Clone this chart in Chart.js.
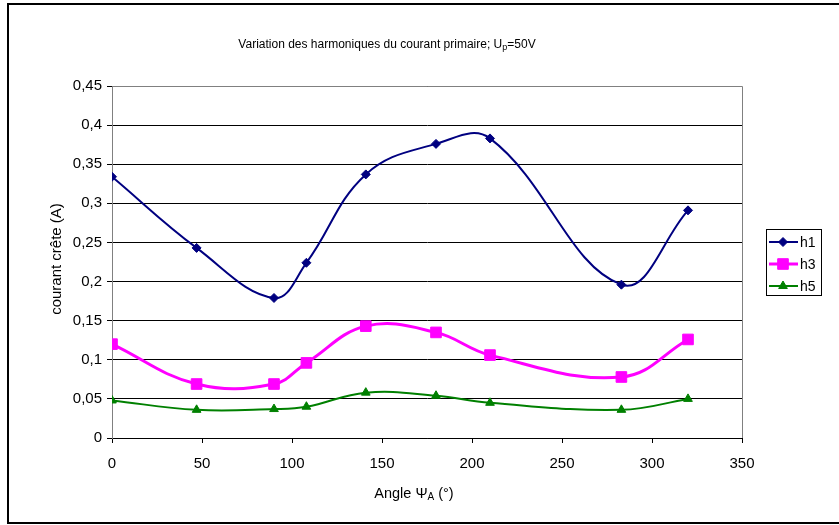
<!DOCTYPE html>
<html>
<head>
<meta charset="utf-8">
<script src="https://cdn.jsdelivr.net/npm/chart.js@4/dist/chart.umd.min.js"></script>
<style>
  html, body { margin: 0; padding: 0; background: #fff; }
  #wrap { width: 839px; height: 525px; }
</style>
</head>
<body>
<div id="wrap"><canvas id="chart" width="839" height="525"></canvas></div>
<script>
// data
const angles = [0, 47, 90, 108, 141, 180, 210, 283, 320];
const h1 = [0.334, 0.243, 0.179, 0.224, 0.337, 0.376, 0.383, 0.196, 0.291];
const h3 = [0.120, 0.069, 0.069, 0.096, 0.143, 0.135, 0.106, 0.078, 0.126];
const h5 = [0.048, 0.036, 0.037, 0.040, 0.058, 0.054, 0.045, 0.036, 0.050];
const seriesNames = ['h1', 'h3', 'h5'];
const xTickLabels = ['0', '50', '100', '150', '200', '250', '300', '350'];
const yTickLabels = ['0', '0,05', '0,1', '0,15', '0,2', '0,25', '0,3', '0,35', '0,4', '0,45'];
const titleParts = [{ t: 'Variation des harmoniques du courant primaire; U' }, { t: 'p', sub: true }, { t: '=50V' }];
const xTitleParts = [{ t: 'Angle \u03A8' }, { t: 'A', sub: true }, { t: ' (\u00B0)' }];
const yTitle = 'courant cr\u00EAte (A)';

const FONT = '"Liberation Sans", Arial, sans-serif';

function pts(ys) {
  return angles.map((a, i) => ({ x: a, y: ys[i] }));
}

const styles = [
  { color: '#000080', pointStyle: 'rectRot', radius: 4.5, width: 2 },
  { color: '#FF00FF', pointStyle: 'rect', radius: 7.5, width: 3 },
  { color: '#008000', pointStyle: 'triangle', radius: 5, width: 2 }
];

const datasets = [h1, h3, h5].map((ys, i) => ({
  label: seriesNames[i],
  data: pts(ys),
  borderColor: styles[i].color,
  backgroundColor: styles[i].color,
  borderWidth: styles[i].width,
  pointStyle: styles[i].pointStyle,
  pointRadius: styles[i].radius,
  pointBorderWidth: 1,
  pointHoverRadius: styles[i].radius,
  tension: 0.4
}));

// text with subscripts drawn on the canvas
function drawParts(ctx, parts, cx, cy, size) {
  const subSize = Math.round(size * 0.72);
  let total = 0;
  parts.forEach(p => {
    ctx.font = (p.sub ? subSize : size) + 'px ' + FONT;
    p.w = ctx.measureText(p.t).width;
    total += p.w;
  });
  let x = cx - total / 2;
  ctx.textAlign = 'left';
  ctx.textBaseline = 'middle';
  parts.forEach(p => {
    ctx.font = (p.sub ? subSize : size) + 'px ' + FONT;
    ctx.fillText(p.t, x, p.sub ? cy + size * 0.25 : cy);
    x += p.w;
  });
}

const decor = {
  id: 'decor',
  beforeDraw(chart) {
    const ctx = chart.ctx;
    ctx.save();
    ctx.fillStyle = '#fff';
    ctx.fillRect(0, 0, chart.width, chart.height);
    ctx.restore();
  },
  afterDraw(chart) {
    const ctx = chart.ctx;
    const a = chart.chartArea;
    ctx.save();
    // plot area frame (top / right)
    ctx.strokeStyle = '#808080';
    ctx.lineWidth = 1;
    ctx.beginPath();
    ctx.moveTo(a.left, a.top + 0.5);
    ctx.lineTo(a.right + 0.5, a.top + 0.5);
    ctx.lineTo(a.right + 0.5, a.bottom);
    ctx.stroke();
    // outer border
    ctx.strokeStyle = '#000';
    ctx.lineWidth = 2;
    ctx.strokeRect(8, 4, 850, 519);

    ctx.fillStyle = '#000';
    drawParts(ctx, titleParts, 387, 45, 12);
    drawParts(ctx, xTitleParts, 414, 494, 14.5);
    ctx.save();
    ctx.translate(57, 259);
    ctx.rotate(-Math.PI / 2);
    ctx.font = '15px ' + FONT;
    ctx.textAlign = 'center';
    ctx.textBaseline = 'middle';
    ctx.fillText(yTitle, 0, 0);
    ctx.restore();

    // legend
    ctx.strokeStyle = '#000';
    ctx.lineWidth = 1;
    ctx.strokeRect(766.5, 229.5, 55, 66);
    datasets.forEach((ds, i) => {
      const y = 242 + i * 22;
      ctx.strokeStyle = ds.borderColor;
      ctx.fillStyle = ds.backgroundColor;
      ctx.lineWidth = ds.borderWidth;
      ctx.beginPath();
      ctx.moveTo(769, y);
      ctx.lineTo(798, y);
      ctx.stroke();
      ctx.lineWidth = 1;
      Chart.helpers.drawPoint(ctx, { pointStyle: ds.pointStyle, radius: ds.pointRadius, rotation: 0, borderWidth: 1 }, 783, y);
      ctx.fillStyle = '#000';
      ctx.font = '14px ' + FONT;
      ctx.textAlign = 'left';
      ctx.textBaseline = 'middle';
      ctx.fillText(ds.label, 800, y + 1);
    });
    ctx.restore();
  }
};

new Chart(document.getElementById('chart'), {
  type: 'line',
  data: { datasets },
  options: {
    responsive: false,
    animation: false,
    devicePixelRatio: 1,
    layout: { padding: { top: 86, right: 97, bottom: 0, left: 0 } },
    plugins: { legend: { display: false }, title: { display: false }, tooltip: { enabled: false } },
    scales: {
      x: {
        type: 'linear',
        min: 0,
        max: 350,
        ticks: {
          stepSize: 50,
          color: '#000',
          font: { family: FONT, size: 15 },
          padding: 12,
          maxRotation: 0,
          callback: (v, i) => xTickLabels[i]
        },
        grid: { drawOnChartArea: false, drawTicks: true, tickLength: 5, color: '#000' },
        border: { color: '#000', width: 1 },
        afterFit: s => { s.height = 87; }
      },
      y: {
        min: 0,
        max: 0.45,
        ticks: {
          stepSize: 0.05,
          color: '#000',
          font: { family: FONT, size: 15 },
          padding: 5,
          callback: (v, i) => yTickLabels[i]
        },
        grid: { color: '#000', tickLength: 5 },
        border: { color: '#808080', width: 1 },
        afterFit: s => { s.width = 112; }
      }
    }
  },
  plugins: [decor]
});
</script>
</body>
</html>
